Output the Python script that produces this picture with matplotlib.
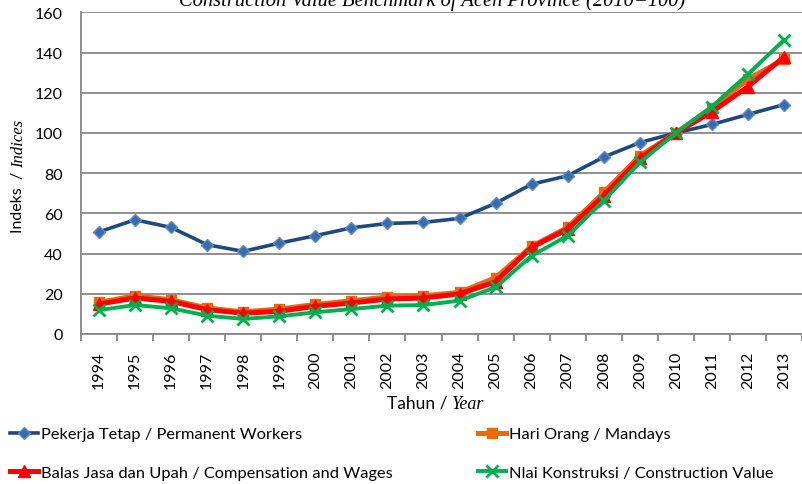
import matplotlib
matplotlib.use("Agg")
import matplotlib.pyplot as plt
import numpy as np

years = [str(y) for y in range(1994, 2014)]
pekerja_tetap = [50.8, 56.8, 53.0, 44.4, 41.1, 45.2, 48.9, 52.8, 55.0, 55.5,
                 57.5, 65.0, 74.5, 78.7, 88.0, 95.2, 100.0, 104.2, 109.2, 114.1]
hari_orang = [15.7, 19.0, 17.0, 12.9, 11.0, 12.4, 14.7, 16.5, 18.4, 19.0,
              20.7, 28.0, 43.6, 53.0, 70.4, 88.6, 100.0, 112.6, 126.7, 136.6]
balas_jasa = [14.9, 17.9, 16.2, 12.1, 10.3, 11.3, 13.8, 15.4, 17.4, 17.9,
              19.9, 26.0, 43.1, 52.2, 68.7, 87.3, 100.0, 110.5, 123.0, 137.8]
nilai_konstruksi = [11.9, 14.4, 12.8, 9.1, 7.5, 8.8, 10.8, 12.4, 14.1, 14.4,
                    16.6, 23.2, 38.9, 48.9, 66.3, 85.3, 100.0, 113.1, 129.2, 146.2]
labels = ["Pekerja Tetap / Permanent Workers", "Hari Orang / Mandays",
          "Balas Jasa dan Upah / Compensation and Wages", "Nlai Konstruksi / Construction Value"]
title = "Construction Value Benchmark of Aceh Province (2010=100)"

SANS = ["Lato", "DejaVu Sans"]
SERIF = ["Liberation Serif", "DejaVu Serif"]
plt.rcParams['font.family'] = SANS

W, H = 802, 485
fig = plt.figure(figsize=(W / 100, H / 100), dpi=100)
ax = fig.add_axes([81 / W, 1 - 335 / H, (802 - 81) / W, (335 - 13.3) / H])

x = np.arange(len(years))
grid_c = "#868686"

l1, = ax.plot(x, pekerja_tetap, color="#1F497D", lw=2.6, marker="D", ms=6.5,
              mfc="#3A6BAA", mec="#5B8BC8", mew=1.0, zorder=3)
l2, = ax.plot(x, hari_orang, color="#E46C0A", lw=3.6, marker="s", ms=7.5,
              mfc="#E46C0A", mec="#E46C0A", zorder=4)
l3, = ax.plot(x, balas_jasa, color="#FF0000", lw=3.6, marker="^", ms=8,
              mfc="#FF0000", mec="#FF0000", zorder=5)
l4, = ax.plot(x, nilai_konstruksi, color="#00B050", lw=2.8, marker="x", ms=8,
              mew=2.0, zorder=6)

ax.set_xlim(-0.5, len(years) - 0.5)
ax.set_ylim(0, 160)
ax.set_yticks(np.arange(0, 161, 20))
ax.yaxis.grid(True, color=grid_c, lw=1.3)
ax.set_axisbelow(True)
ax.set_xticks(x)
ax.set_xticklabels(years, rotation=90, fontsize=11.5)
ax.set_xticks(np.arange(-0.5, len(years), 1), minor=True)
ax.tick_params(axis="x", which="major", length=0, pad=12)
ax.tick_params(axis="x", which="minor", length=5, color=grid_c, width=1.3)
ax.tick_params(axis="y", length=0, pad=13, labelsize=11.5)
for s in ["top", "right"]:
    ax.spines[s].set_visible(False)
for s in ["left", "bottom"]:
    ax.spines[s].set_color(grid_c)
    ax.spines[s].set_linewidth(1.3)

# title (clipped at top edge as in the reference)
fig.text(432 / W, 1 - 6 / H, title, ha="center", va="baseline", fontsize=14.8,
         style="italic", family=SERIF)

fig.canvas.draw()
r = fig.canvas.get_renderer()

# x label: "Tahun / " + italic "Year"
t1 = fig.text(387 / W, 1 - 409 / H, "Tahun / ", ha="left", va="baseline", fontsize=12.5)
bb = t1.get_window_extent(r)
fig.text(bb.x1 / W, 1 - 409 / H, "Year", ha="left", va="baseline", fontsize=13,
         style="italic", family=SERIF)

# y label rotated: "Indeks  / " + italic "Indices"
t2 = fig.text(18 / W, 1 - 233 / H, "Indeks  / ", rotation=90, ha="center", va="bottom",
              fontsize=11.5)
bb2 = t2.get_window_extent(r)
fig.text(19 / W, bb2.y1 / H, "Indices", rotation=90, ha="center", va="bottom",
         fontsize=12, style="italic", family=SERIF)

# legends
leg_kw = dict(frameon=False, fontsize=11.8, handlelength=1.7, handletextpad=0.2,
              labelspacing=1.45, borderpad=0, borderaxespad=0, numpoints=1)
fig.legend([l1, l3], [labels[0], labels[2]], loc="upper left",
           bbox_to_anchor=(10 / W, 1 - 428 / H), **leg_kw)
fig.legend([l2, l4], [labels[1], labels[3]], loc="upper left",
           bbox_to_anchor=(478 / W, 1 - 428 / H), **leg_kw)

fig.savefig("out.png", dpi=100)
